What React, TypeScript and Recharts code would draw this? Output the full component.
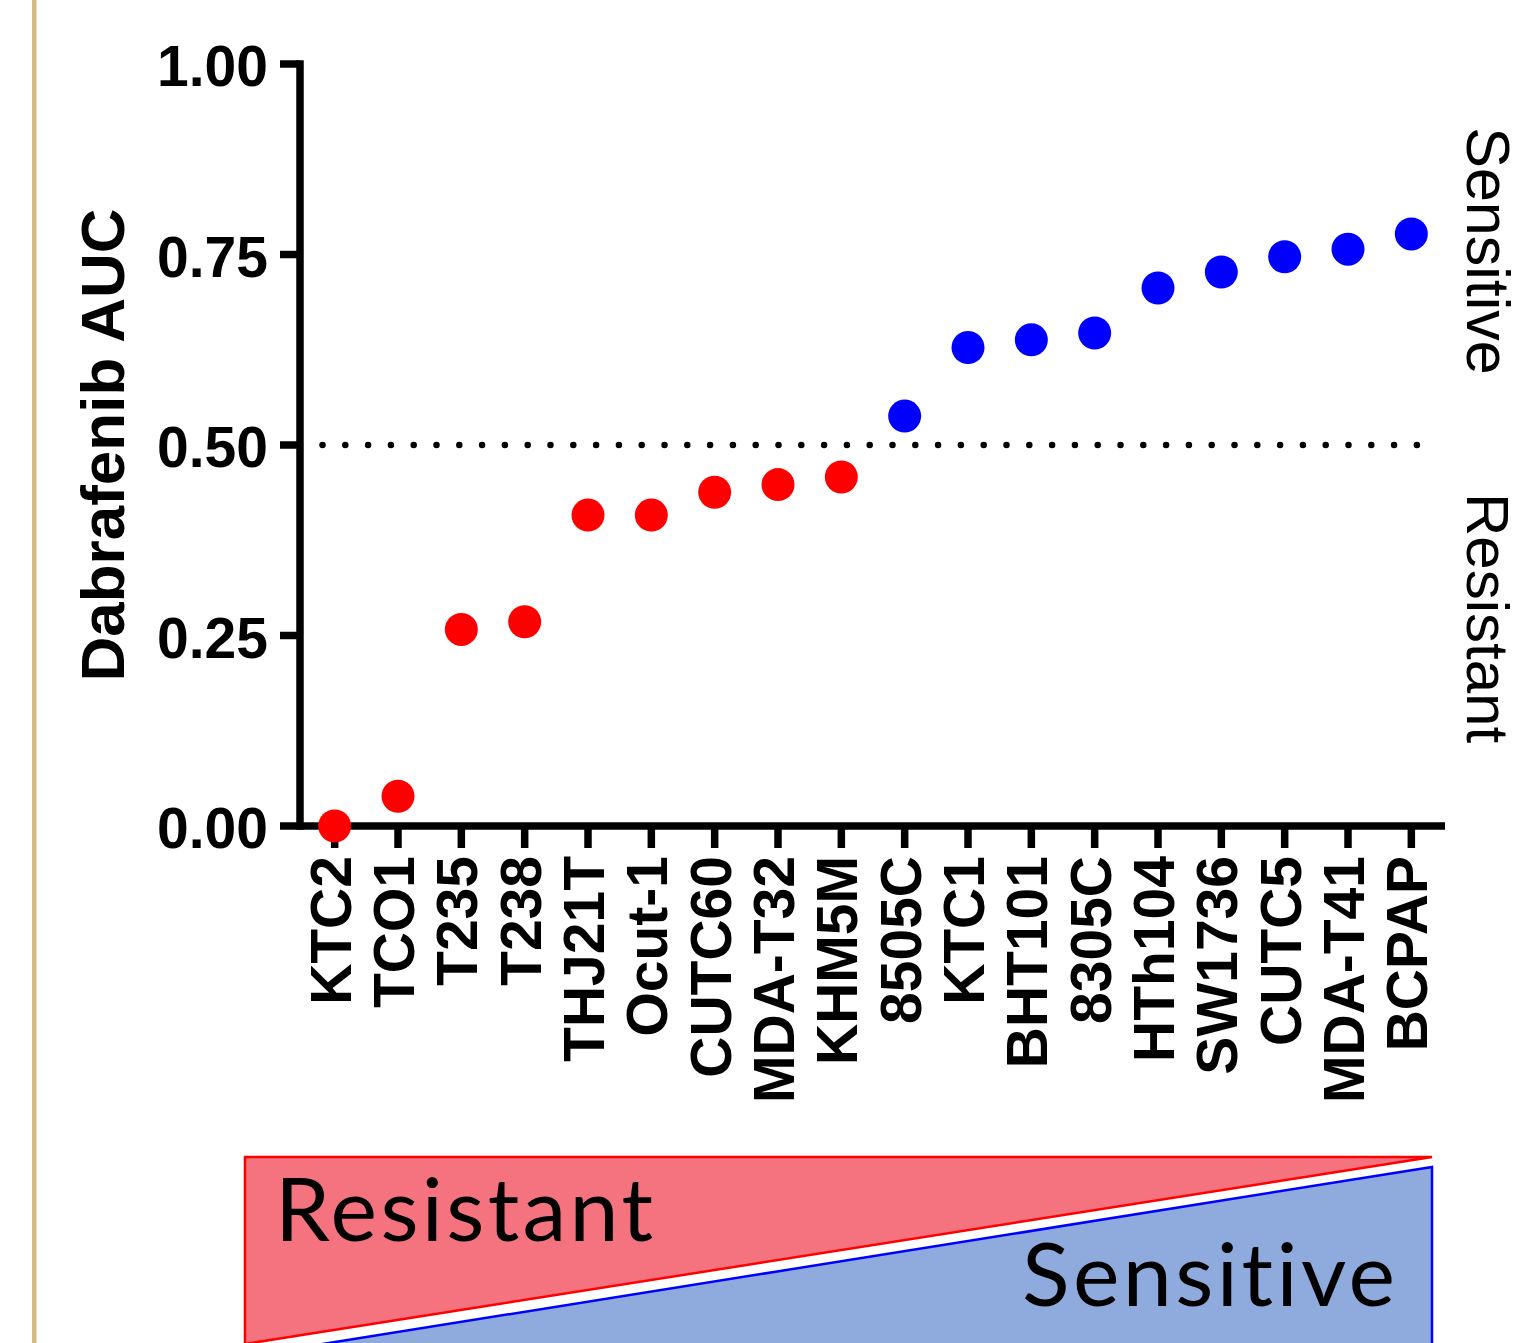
import React from "react";
import { ScatterChart, Scatter, XAxis, YAxis, ReferenceLine, Label } from "recharts";

// cell lines in plotted order, AUC
const cellLines = [
  "KTC2", "TCO1", "T235", "T238", "THJ21T", "Ocut-1", "CUTC60", "MDA-T32", "KHM5M",
  "8505C", "KTC1", "BHT101", "8305C", "HTh104", "SW1736", "CUTC5", "MDA-T41", "BCPAP",
];
const aucValues = [
  0.0, 0.039, 0.258, 0.268, 0.408, 0.408, 0.438, 0.448, 0.458,
  0.538, 0.628, 0.638, 0.647, 0.706, 0.727, 0.747, 0.757, 0.777,
];
const groups = [
  "Resistant", "Resistant", "Resistant", "Resistant", "Resistant", "Resistant", "Resistant", "Resistant", "Resistant",
  "Sensitive", "Sensitive", "Sensitive", "Sensitive", "Sensitive", "Sensitive", "Sensitive", "Sensitive", "Sensitive",
];
const yTicks = [0, 0.25, 0.5, 0.75, 1];
const cutoff = 0.5;

const groupColors: Record<string, string> = { Resistant: "#ff0000", Sensitive: "#0000ff" };

const data = cellLines.map((line, i) => ({ line, auc: aucValues[i], group: groups[i] }));

const W = 1519;
const H = 1343;
const FONT = "Arial, 'Liberation Sans', Helvetica, sans-serif";
const AXIS_W = 7.5;

const XTick = (props: any) => {
  const { x, y, payload } = props;
  return (
    <text
      transform={`translate(${x + 16},${y + 6}) rotate(-90)`}
      textAnchor="end"
      fontFamily={FONT}
      fontSize={57}
      fontWeight="bold"
      fill="#000"
    >
      {payload.value}
    </text>
  );
};

const YTick = (props: any) => {
  const { x, y, payload } = props;
  return (
    <text x={x} y={y} dy={22} textAnchor="end" fontFamily={FONT} fontSize={57} fontWeight="bold" fill="#000">
      {Number(payload.value).toFixed(2)}
    </text>
  );
};

const Dot = (props: any) => {
  const { cx, cy, payload } = props;
  return <circle cx={cx} cy={cy} r={16.5} fill={groupColors[payload.group]} />;
};

const DottedCutoff = (props: any) => {
  const { x1, x2, y1 } = props;
  return (
    <line
      x1={x1 + 22.5}
      x2={x2 - 22}
      y1={y1}
      y2={y1}
      stroke="#000"
      strokeWidth={6.5}
      strokeLinecap="round"
      strokeDasharray="0 22.8"
    />
  );
};

const AxisTitle = () => (
  <text
    transform="translate(124,445) rotate(-90)"
    textAnchor="middle"
    fontFamily={FONT}
    fontSize={62}
    fontWeight="bold"
    fill="#000"
  >
    Dabrafenib AUC
  </text>
);

const calibriLike = { fontVariantLigatures: "none" as const };

export default function App() {
  return (
    <div style={{ position: "absolute", left: 0, top: 0, width: W, height: H, background: "#fff" }}>
      <ScatterChart width={W} height={H} margin={{ top: 64, right: 74, bottom: 217, left: 100 }}>
        <XAxis
          type="category"
          dataKey="line"
          allowDuplicatedCategory={false}
          interval={0}
          height={300}
          padding={{ left: 3, right: 2 }}
          axisLine={{ stroke: "#000", strokeWidth: AXIS_W }}
          tickLine={{ stroke: "#000", strokeWidth: AXIS_W }}
          tickSize={22}
          tick={<XTick />}
        />
        <YAxis
          type="number"
          dataKey="auc"
          domain={[0, 1]}
          ticks={yTicks}
          width={200}
          axisLine={{ stroke: "#000", strokeWidth: AXIS_W, strokeLinecap: "square" }}
          tickLine={{ stroke: "#000", strokeWidth: AXIS_W }}
          tickSize={20}
          tickMargin={12}
          tick={<YTick />}
        >
          <Label content={<AxisTitle />} />
        </YAxis>
        <ReferenceLine y={cutoff} shape={<DottedCutoff />} />
        <Scatter data={data} dataKey="auc" shape={<Dot />} isAnimationActive={false} />
      </ScatterChart>

      <svg
        width={W}
        height={H}
        style={{ position: "absolute", left: 0, top: 0, pointerEvents: "none" }}
      >
        <rect x={32} y={0} width={4.5} height={H} fill="#d4bc7e" />

        <text transform="translate(1467,251) rotate(90)" textAnchor="middle" fontFamily={FONT} fontSize={61} fill="#000">
          Sensitive
        </text>
        <text transform="translate(1467,618) rotate(90)" textAnchor="middle" fontFamily={FONT} fontSize={60} fill="#000">
          Resistant
        </text>

        <polygon points="245,1157 1432,1157 245,1344" fill="#f4737f" stroke="#ff0000" strokeWidth={2.5} />
        <polygon points="1432,1167 1432,1346 310,1346" fill="#8faadc" stroke="#0000ff" strokeWidth={2.5} />
        <text x={275} y={1241} style={calibriLike} fontFamily="Lato, 'Open Sans', sans-serif" fontSize={88} fill="#000" textLength={378} lengthAdjust="spacing">
          Resistant
        </text>
        <text x={1022} y={1306} style={calibriLike} fontFamily="Lato, 'Open Sans', sans-serif" fontSize={88} fill="#000" textLength={373} lengthAdjust="spacing">
          Sensitive
        </text>
      </svg>
    </div>
  );
}
